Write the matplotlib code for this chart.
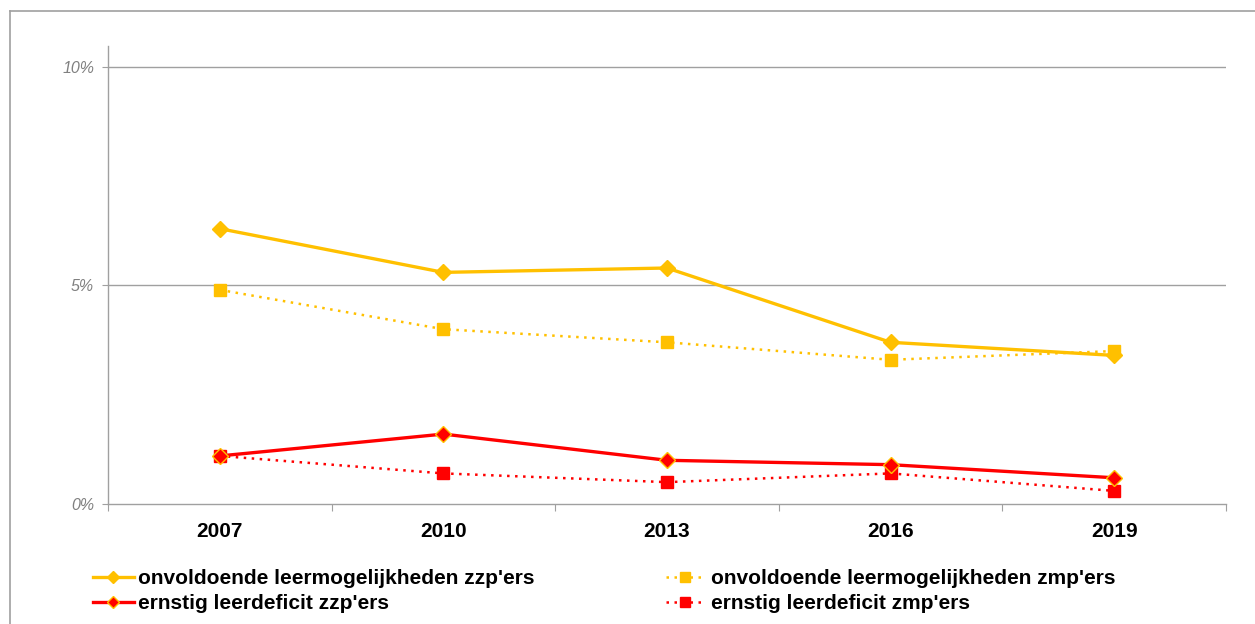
import matplotlib
matplotlib.use("Agg")
import matplotlib.pyplot as plt
from matplotlib.lines import Line2D

years = ["2007", "2010", "2013", "2016", "2019"]
onv_zzp = [6.3, 5.3, 5.4, 3.7, 3.4]
onv_zmp = [4.9, 4.0, 3.7, 3.3, 3.5]
ern_zzp = [1.1, 1.6, 1.0, 0.9, 0.6]
ern_zmp = [1.1, 0.7, 0.5, 0.7, 0.3]
labels = ["onvoldoende leermogelijkheden zzp'ers",
          "ernstig leerdeficit zzp'ers",
          "onvoldoende leermogelijkheden zmp'ers",
          "ernstig leerdeficit zmp'ers"]
yticks = [0, 5, 10]
ytick_labels = ["0%", "5%", "10%"]

plt.rcParams['font.family'] = ['Liberation Sans', 'DejaVu Sans']

ORANGE = "#FFC000"
RED = "#FF0000"
GRAY = "#A0A0A0"

W, H = 1255, 624
fig = plt.figure(figsize=(W / 100, H / 100), dpi=100)
ax = fig.add_axes([108 / W, 1 - 504 / H, (1226 - 108) / W, (504 - 46) / H])

x = list(range(len(years)))

l_oz, = ax.plot(x, onv_zmp, color=ORANGE, lw=1.8, ls=(0, (1, 2.2)),
                marker='s', ms=8, mfc=ORANGE, mec=ORANGE, zorder=3)
l_ez, = ax.plot(x, ern_zmp, color=RED, lw=1.8, ls=(0, (1, 2.2)),
                marker='s', ms=8, mfc=RED, mec=RED, zorder=3)
l_o, = ax.plot(x, onv_zzp, color=ORANGE, lw=2.4,
               marker='D', ms=8, mfc=ORANGE, mec=ORANGE, zorder=4)
l_e, = ax.plot(x, ern_zzp, color=RED, lw=2.4,
               marker='D', ms=8, mfc=RED, mec=ORANGE, mew=1, zorder=4)

ax.set_xlim(-0.5, len(years) - 0.5)
ax.set_ylim(0, 10.48)

for yv in yticks[1:]:
    ax.axhline(yv, color=GRAY, lw=1, zorder=1)

for s in ['top', 'right']:
    ax.spines[s].set_visible(False)
for s in ['left', 'bottom']:
    ax.spines[s].set_color(GRAY)
    ax.spines[s].set_linewidth(1)

ax.set_yticks(yticks)
ax.set_yticklabels(ytick_labels, fontstyle='italic', color='#808080', fontsize=11.5)
ax.tick_params(axis='y', direction='out', length=4, color=GRAY, pad=6)

ax.set_xticks([i - 0.5 for i in range(len(years) + 1)])
ax.set_xticklabels([])
ax.tick_params(axis='x', which='major', direction='out', length=5, color=GRAY)
ax.set_xticks(x, minor=True)
ax.set_xticklabels(years, minor=True, fontweight='bold', fontsize=15)
ax.tick_params(axis='x', which='minor', length=0, pad=13)

prop = {'weight': 'bold', 'size': 15}
leg1 = fig.legend([l_o, l_e], labels[:2], loc='upper left',
                  bbox_to_anchor=(93 / W, 1 - 569 / H), frameon=False,
                  prop=prop, handlelength=1.95, markerscale=0.8,
                  handletextpad=0.2, labelspacing=0.3, borderaxespad=0,
                  borderpad=0)
leg2 = fig.legend([l_oz, l_ez], labels[2:], loc='upper left',
                  bbox_to_anchor=(666 / W, 1 - 569 / H), frameon=False,
                  prop=prop, handlelength=1.85, markerscale=0.9,
                  handletextpad=0.33, labelspacing=0.3, borderaxespad=0,
                  borderpad=0)

fig.add_artist(Line2D([10 / W, 1], [1 - 11 / H, 1 - 11 / H], color=GRAY, lw=1.2,
                      transform=fig.transFigure))
fig.add_artist(Line2D([10 / W, 10 / W], [0, 1 - 11 / H], color=GRAY, lw=1.2,
                      transform=fig.transFigure))

fig.savefig("out.png", dpi=100)
